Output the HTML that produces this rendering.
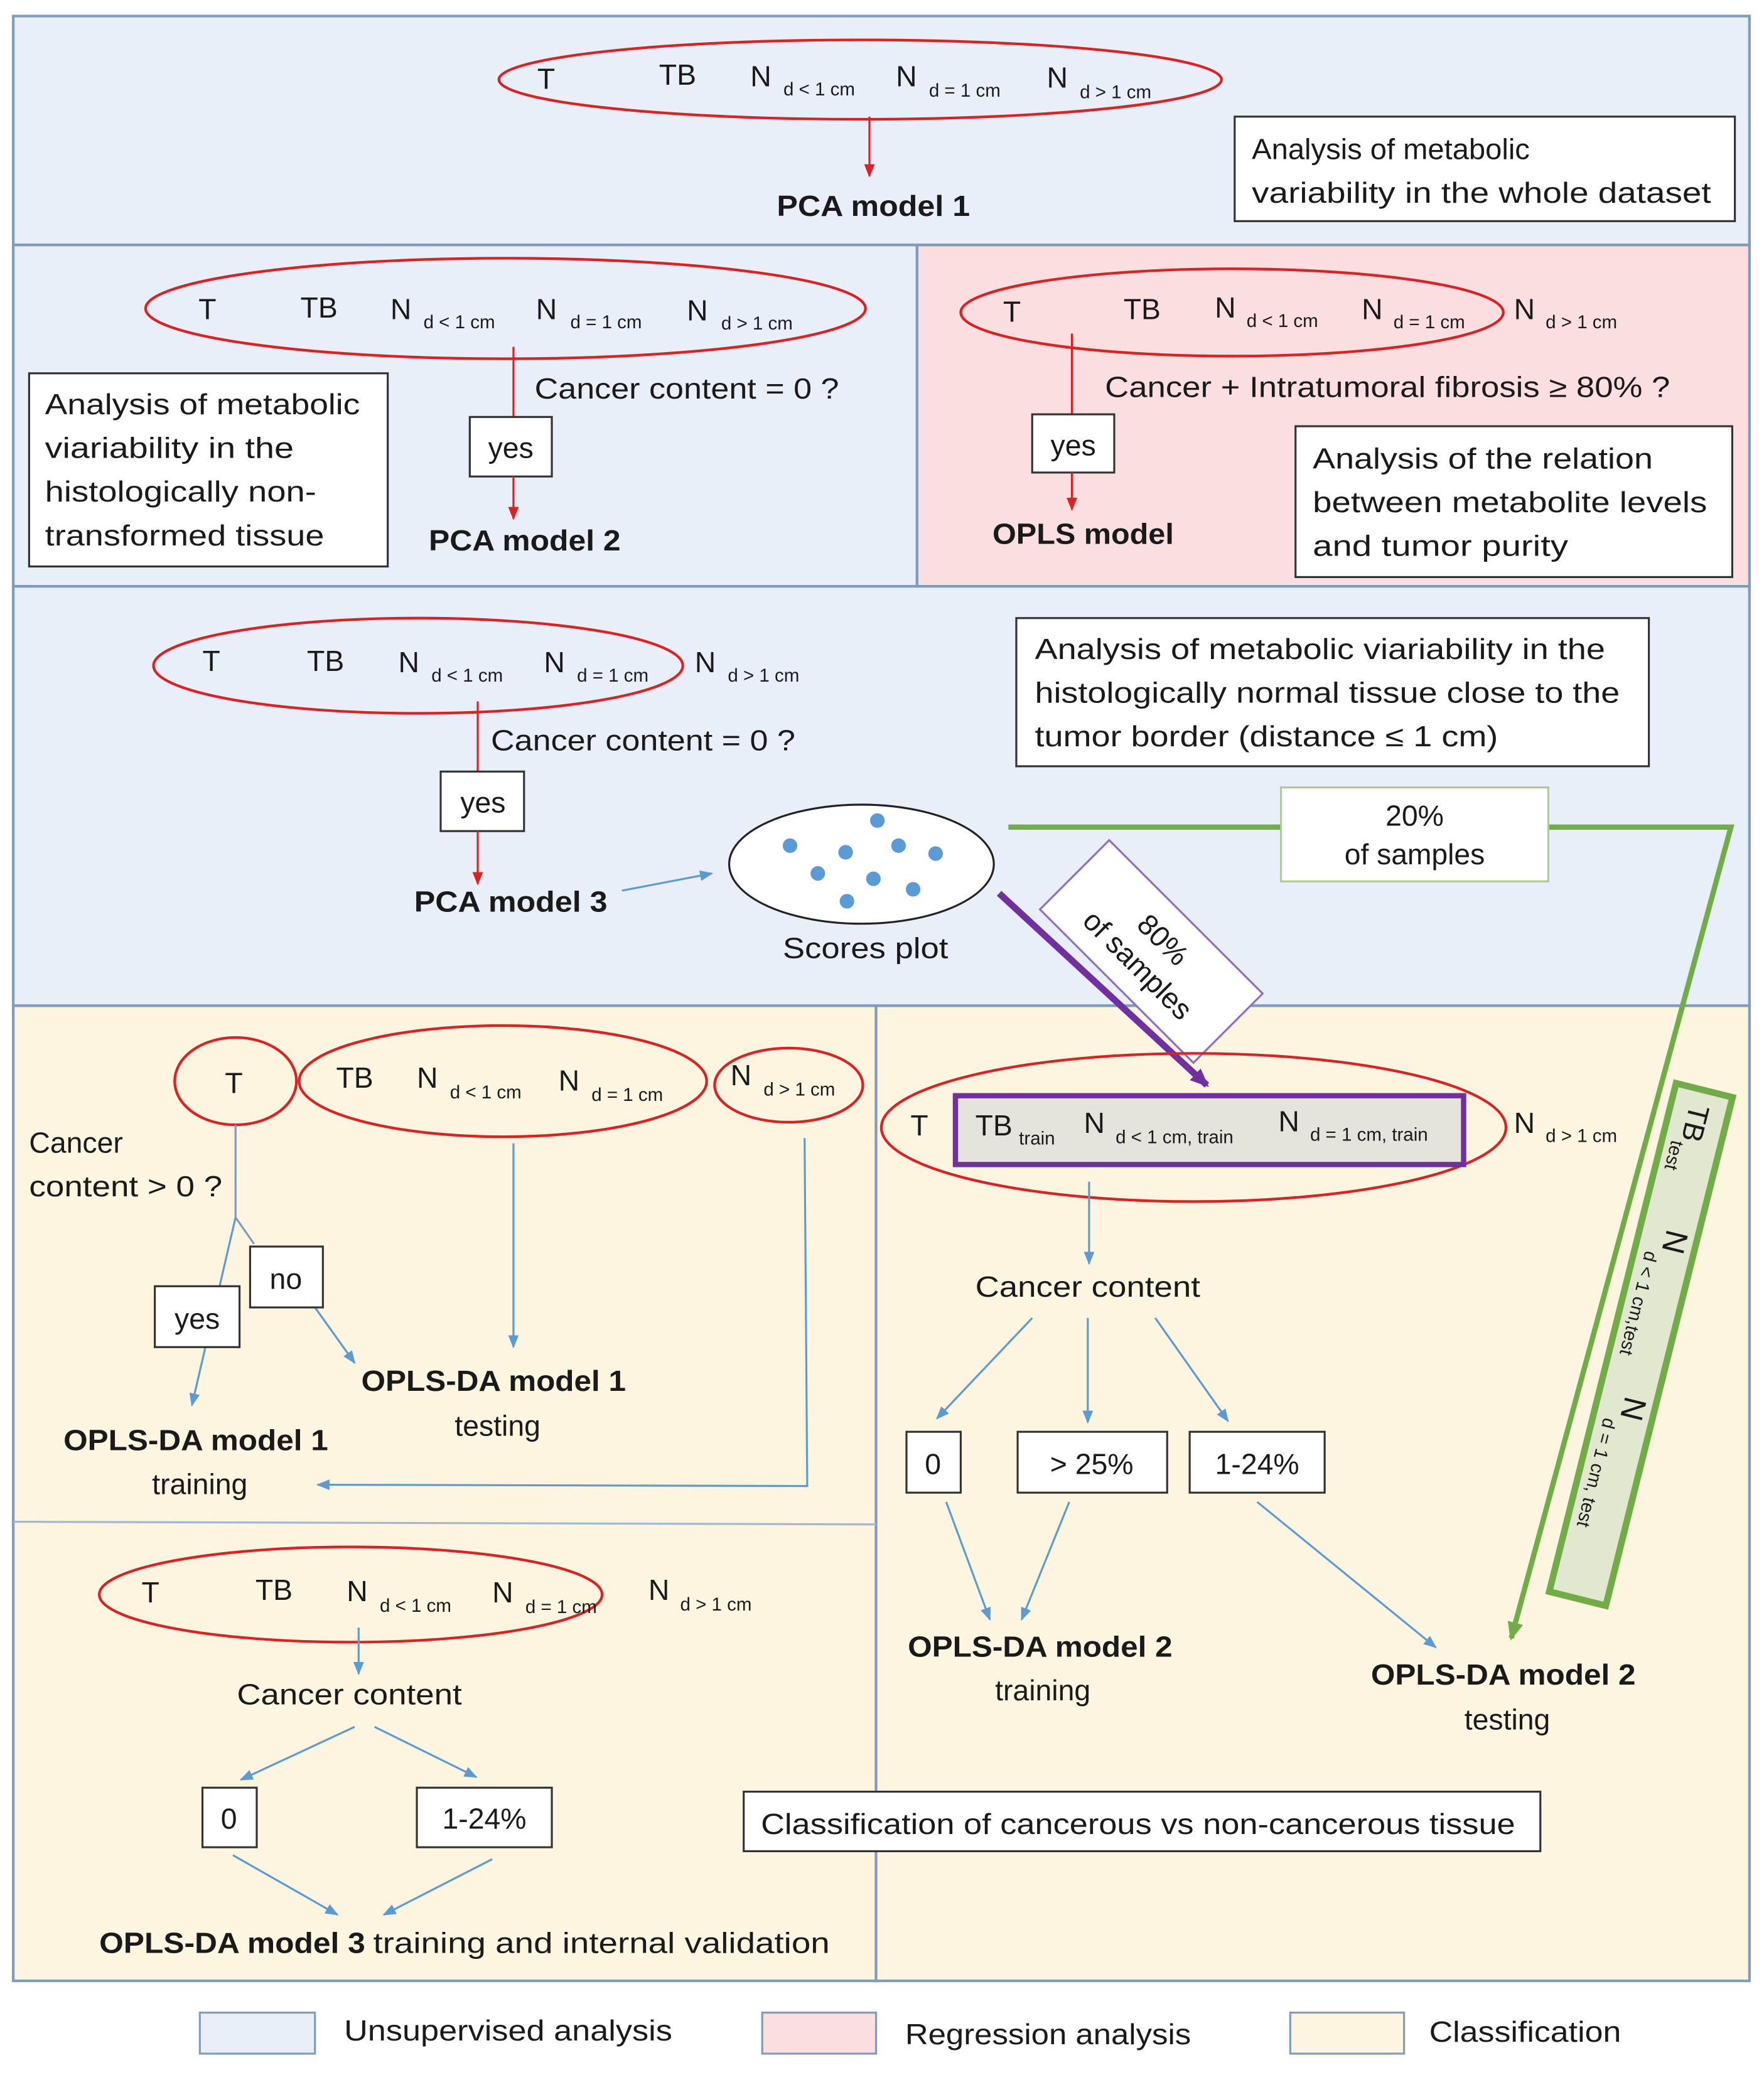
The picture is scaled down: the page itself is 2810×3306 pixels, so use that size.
<!DOCTYPE html>
<html><head><meta charset="utf-8"><style>
html,body{margin:0;padding:0;background:#fff}
svg{display:block}
text{font-family:"Liberation Sans",sans-serif;fill:#1a1a1a}
.m{font-size:22px}
.s{font-size:14px}
.b{font-size:22px;font-weight:bold}
</style></head><body>
<svg width="2810" height="3306" viewBox="0 0 1333 1568" xmlns="http://www.w3.org/2000/svg">
<defs>
<marker id="ar" markerWidth="10" markerHeight="10" refX="9" refY="5" orient="auto" markerUnits="userSpaceOnUse"><path d="M0,1 L10,5 L0,9 z" fill="#e02020"/></marker>
<marker id="ab" markerWidth="10" markerHeight="10" refX="9" refY="5" orient="auto" markerUnits="userSpaceOnUse"><path d="M0,1 L10,5 L0,9 z" fill="#5b9bd5"/></marker>
<marker id="ap" markerWidth="14" markerHeight="14" refX="12" refY="7" orient="auto" markerUnits="userSpaceOnUse"><path d="M0,1 L14,7 L0,13 z" fill="#7030a0"/></marker>
<marker id="ag" markerWidth="14" markerHeight="14" refX="12" refY="7" orient="auto" markerUnits="userSpaceOnUse"><path d="M0,1 L14,7 L0,13 z" fill="#70ad47"/></marker>
</defs>
<rect width="1333" height="1568" fill="#fff"/>
<g stroke="#7f9cbf" stroke-width="2">
<rect x="10" y="12" width="1312" height="173" fill="#e9eff8"/>
<rect x="10" y="185" width="683" height="258" fill="#e9eff8"/>
<rect x="693" y="185" width="629" height="258" fill="#fbdfe0"/>
<rect x="10" y="443" width="1312" height="317" fill="#e9eff8"/>
<rect x="10" y="760" width="652" height="737" fill="#fdf5e0"/>
<rect x="662" y="760" width="660" height="737" fill="#fdf5e0"/>
</g>
<line x1="10" y1="1150" x2="662" y2="1152" stroke="#9fb8d6" stroke-width="1.5"/>

<ellipse cx="650" cy="60" rx="273" ry="30" fill="none" stroke="#e02020" stroke-width="2"/>
<text class="m" x="406" y="67">T</text><text class="m" x="498" y="64">TB</text>
<text class="m" x="567" y="65">N</text><text class="s" x="592" y="72">d &lt; 1 cm</text>
<text class="m" x="677" y="65">N</text><text class="s" x="702" y="73">d = 1 cm</text>
<text class="m" x="791" y="66">N</text><text class="s" x="816" y="74">d &gt; 1 cm</text>
<line x1="657" y1="88" x2="657" y2="133" stroke="#e02020" stroke-width="1.5" marker-end="url(#ar)"/>
<text class="b" x="660" y="163" text-anchor="middle" textLength="146" lengthAdjust="spacingAndGlyphs">PCA model 1</text>
<rect x="933" y="88" width="378" height="79" fill="#fff" stroke="#333" stroke-width="1.5"/>
<text class="m" x="946" y="120" textLength="210" lengthAdjust="spacingAndGlyphs">Analysis of metabolic</text>
<text class="m" x="946" y="153" textLength="347" lengthAdjust="spacingAndGlyphs">variability in the whole dataset</text>

<ellipse cx="382" cy="233" rx="272" ry="38" fill="none" stroke="#e02020" stroke-width="2"/>
<text class="m" x="150" y="241">T</text><text class="m" x="227" y="240">TB</text>
<text class="m" x="295" y="241">N</text><text class="s" x="320" y="248">d &lt; 1 cm</text>
<text class="m" x="405" y="241">N</text><text class="s" x="431" y="248">d = 1 cm</text>
<text class="m" x="519" y="242">N</text><text class="s" x="545" y="249">d &gt; 1 cm</text>
<line x1="388" y1="262" x2="388" y2="315" stroke="#e02020" stroke-width="1.5"/>
<rect x="355" y="315" width="62" height="45" fill="#fff" stroke="#333" stroke-width="1.5"/>
<text class="m" x="386" y="346" text-anchor="middle">yes</text>
<line x1="388" y1="360" x2="388" y2="392" stroke="#e02020" stroke-width="1.5" marker-end="url(#ar)"/>
<text class="m" x="404" y="301" textLength="230" lengthAdjust="spacingAndGlyphs">Cancer content = 0 ?</text>
<text class="b" x="324" y="416" textLength="145" lengthAdjust="spacingAndGlyphs">PCA model 2</text>
<rect x="22" y="282" width="271" height="146" fill="#fff" stroke="#333" stroke-width="1.5"/>
<text class="m" x="34" y="313" textLength="238" lengthAdjust="spacingAndGlyphs">Analysis of metabolic</text>
<text class="m" x="34" y="346" textLength="188" lengthAdjust="spacingAndGlyphs">viariability in the</text>
<text class="m" x="34" y="379" textLength="205" lengthAdjust="spacingAndGlyphs">histologically non-</text>
<text class="m" x="34" y="412" textLength="211" lengthAdjust="spacingAndGlyphs">transformed tissue</text>

<ellipse cx="931" cy="236" rx="205" ry="33" fill="none" stroke="#e02020" stroke-width="2"/>
<text class="m" x="758" y="243">T</text><text class="m" x="849" y="241">TB</text>
<text class="m" x="918" y="240">N</text><text class="s" x="942" y="247">d &lt; 1 cm</text>
<text class="m" x="1029" y="241">N</text><text class="s" x="1053" y="248">d = 1 cm</text>
<text class="m" x="1144" y="241">N</text><text class="s" x="1168" y="248">d &gt; 1 cm</text>
<line x1="810" y1="252" x2="810" y2="313" stroke="#e02020" stroke-width="1.5"/>
<rect x="780" y="313" width="62" height="44" fill="#fff" stroke="#333" stroke-width="1.5"/>
<text class="m" x="811" y="344" text-anchor="middle">yes</text>
<line x1="810" y1="357" x2="810" y2="385" stroke="#e02020" stroke-width="1.5" marker-end="url(#ar)"/>
<text class="m" x="835" y="300" textLength="427" lengthAdjust="spacingAndGlyphs">Cancer + Intratumoral fibrosis ≥ 80% ?</text>
<text class="b" x="750" y="411" textLength="137" lengthAdjust="spacingAndGlyphs">OPLS model</text>
<rect x="979" y="322" width="330" height="114" fill="#fff" stroke="#333" stroke-width="1.5"/>
<text class="m" x="992" y="354" textLength="257" lengthAdjust="spacingAndGlyphs">Analysis of the relation</text>
<text class="m" x="992" y="387" textLength="298" lengthAdjust="spacingAndGlyphs">between metabolite levels</text>
<text class="m" x="992" y="420" textLength="193" lengthAdjust="spacingAndGlyphs">and tumor purity</text>

<ellipse cx="316" cy="503" rx="200" ry="36" fill="none" stroke="#e02020" stroke-width="2"/>
<text class="m" x="153" y="507">T</text><text class="m" x="232" y="507">TB</text>
<text class="m" x="301" y="508">N</text><text class="s" x="326" y="515">d &lt; 1 cm</text>
<text class="m" x="411" y="508">N</text><text class="s" x="436" y="515">d = 1 cm</text>
<text class="m" x="525" y="508">N</text><text class="s" x="550" y="515">d &gt; 1 cm</text>
<line x1="361" y1="530" x2="361" y2="583" stroke="#e02020" stroke-width="1.5"/>
<rect x="333" y="583" width="63" height="45" fill="#fff" stroke="#333" stroke-width="1.5"/>
<text class="m" x="365" y="614" text-anchor="middle">yes</text>
<line x1="361" y1="628" x2="361" y2="668" stroke="#e02020" stroke-width="1.5" marker-end="url(#ar)"/>
<text class="m" x="371" y="567" textLength="230" lengthAdjust="spacingAndGlyphs">Cancer content = 0 ?</text>
<text class="b" x="313" y="689" textLength="146" lengthAdjust="spacingAndGlyphs">PCA model 3</text>
<line x1="470" y1="673" x2="538" y2="660" stroke="#5b9bd5" stroke-width="1.5" marker-end="url(#ab)"/>
<ellipse cx="651" cy="653" rx="100" ry="45" fill="#fff" stroke="#222" stroke-width="1.5"/>
<g fill="#5b9bd5"><circle cx="663" cy="620" r="5.5"/><circle cx="597" cy="639" r="5.5"/><circle cx="639" cy="644" r="5.5"/><circle cx="679" cy="639" r="5.5"/><circle cx="707" cy="645" r="5.5"/><circle cx="618" cy="660" r="5.5"/><circle cx="660" cy="664" r="5.5"/><circle cx="690" cy="672" r="5.5"/><circle cx="640" cy="681" r="5.5"/></g>
<text class="m" x="654" y="724" text-anchor="middle" textLength="125" lengthAdjust="spacingAndGlyphs">Scores plot</text>
<rect x="768" y="467" width="478" height="112" fill="#fff" stroke="#333" stroke-width="1.5"/>
<text class="m" x="782" y="498" textLength="431" lengthAdjust="spacingAndGlyphs">Analysis of metabolic viariability in the</text>
<text class="m" x="782" y="531" textLength="442" lengthAdjust="spacingAndGlyphs">histologically normal tissue close to the</text>
<text class="m" x="782" y="564" textLength="350" lengthAdjust="spacingAndGlyphs">tumor border (distance ≤ 1 cm)</text>

<polyline points="762,625 1308,625 1142,1238" fill="none" stroke="#70ad47" stroke-width="4" marker-end="url(#ag)"/>
<rect x="968" y="595" width="202" height="71" fill="#fff" stroke="#a9d18e" stroke-width="1.5"/>
<text class="m" x="1069" y="624" text-anchor="middle">20%</text>
<text class="m" x="1069" y="653" text-anchor="middle" textLength="106" lengthAdjust="spacingAndGlyphs">of samples</text>

<line x1="755" y1="675" x2="912" y2="820" stroke="#7030a0" stroke-width="5" marker-end="url(#ap)"/>
<g transform="translate(870,719) rotate(45)">
<rect x="-82" y="-37" width="164" height="74" fill="#fff" stroke="#8e6fbf" stroke-width="1.5"/>
<text class="m" x="0" y="-5" text-anchor="middle">80%</text>
<text class="m" x="0" y="22" text-anchor="middle" textLength="106" lengthAdjust="spacingAndGlyphs">of samples</text>
</g>

<ellipse cx="902" cy="852" rx="236" ry="56" fill="none" stroke="#e02020" stroke-width="2"/>
<rect x="722" y="828" width="384" height="52" fill="#e4e4dc" stroke="#7030a0" stroke-width="4"/>
<text class="m" x="688" y="858">T</text>
<text class="m" x="737" y="858">TB</text><text class="s" x="770" y="865">train</text>
<text class="m" x="819" y="856">N</text><text class="s" x="843" y="864">d &lt; 1 cm, train</text>
<text class="m" x="966" y="855">N</text><text class="s" x="990" y="862">d = 1 cm, train</text>
<text class="m" x="1144" y="856">N</text><text class="s" x="1168" y="863">d &gt; 1 cm</text>
<line x1="823" y1="893" x2="823" y2="955" stroke="#5b9bd5" stroke-width="1.5" marker-end="url(#ab)"/>
<text class="m" x="822" y="980" text-anchor="middle" textLength="170" lengthAdjust="spacingAndGlyphs">Cancer content</text>
<g stroke="#5b9bd5" stroke-width="1.5" marker-end="url(#ab)">
<line x1="780" y1="996" x2="708" y2="1072"/>
<line x1="822" y1="996" x2="822" y2="1075"/>
<line x1="873" y1="996" x2="928" y2="1074"/>
<line x1="715" y1="1135" x2="748" y2="1224"/>
<line x1="808" y1="1135" x2="772" y2="1224"/>
<line x1="950" y1="1135" x2="1085" y2="1245"/>
</g>
<g fill="#fff" stroke="#333" stroke-width="1.5">
<rect x="685" y="1082" width="41" height="46"/><rect x="769" y="1082" width="113" height="46"/><rect x="899" y="1082" width="102" height="46"/>
</g>
<text class="m" x="705" y="1114" text-anchor="middle">0</text>
<text class="m" x="825" y="1114" text-anchor="middle">&gt; 25%</text>
<text class="m" x="950" y="1114" text-anchor="middle">1-24%</text>
<text class="b" x="786" y="1252" text-anchor="middle" textLength="200" lengthAdjust="spacingAndGlyphs">OPLS-DA model 2</text>
<text class="m" x="788" y="1285" text-anchor="middle">training</text>
<text class="b" x="1136" y="1273" text-anchor="middle" textLength="200" lengthAdjust="spacingAndGlyphs">OPLS-DA model 2</text>
<text class="m" x="1139" y="1307" text-anchor="middle">testing</text>
<g transform="translate(1240,1016) rotate(104)">
<rect x="-198" y="-22" width="396" height="44" fill="#e2e8cf" stroke="#70ad47" stroke-width="5"/>
<text class="m" x="-186" y="8">TB</text><text class="s" x="-156" y="15">test</text>
<text class="m" x="-90" y="2" style="font-size:24px">N</text><text class="s" x="-70" y="14">d &lt; 1 cm,test</text>
<text class="m" x="40" y="2" style="font-size:24px">N</text><text class="s" x="60" y="14">d = 1 cm, test</text>
</g>
<rect x="562" y="1354" width="602" height="45" fill="#fff" stroke="#333" stroke-width="1.5"/>
<text class="m" x="575" y="1386" textLength="570" lengthAdjust="spacingAndGlyphs">Classification of cancerous vs non-cancerous tissue</text>

<g fill="none" stroke="#e02020" stroke-width="2">
<ellipse cx="178" cy="817" rx="46" ry="33"/><ellipse cx="380" cy="817" rx="154" ry="42"/><ellipse cx="596" cy="820" rx="56" ry="28"/>
</g>
<text class="m" x="170" y="826">T</text><text class="m" x="254" y="822">TB</text>
<text class="m" x="315" y="822">N</text><text class="s" x="340" y="830">d &lt; 1 cm</text>
<text class="m" x="422" y="824">N</text><text class="s" x="447" y="832">d = 1 cm</text>
<text class="m" x="552" y="820">N</text><text class="s" x="577" y="828">d &gt; 1 cm</text>
<text class="m" x="22" y="871">Cancer</text>
<text class="m" x="22" y="904" textLength="146" lengthAdjust="spacingAndGlyphs">content &gt; 0 ?</text>
<g stroke="#7f9cbf" stroke-width="1.5" fill="none">
<line x1="178" y1="850" x2="178" y2="920"/>
<line x1="178" y1="920" x2="192" y2="940"/>
</g>
<g stroke="#5b9bd5" stroke-width="1.5" fill="none">
<line x1="178" y1="920" x2="145" y2="1062" marker-end="url(#ab)"/>
<line x1="238" y1="988" x2="268" y2="1030" marker-end="url(#ab)"/>
<line x1="388" y1="864" x2="388" y2="1018" marker-end="url(#ab)"/>
<polyline points="608,860 610,1123 240,1122" marker-end="url(#ab)"/>
</g>
<g fill="#fff" stroke="#333" stroke-width="1.5">
<rect x="117" y="972" width="64" height="46"/><rect x="189" y="942" width="55" height="46"/>
</g>
<text class="m" x="149" y="1004" text-anchor="middle">yes</text>
<text class="m" x="216" y="974" text-anchor="middle">no</text>
<text class="b" x="373" y="1051" text-anchor="middle" textLength="200" lengthAdjust="spacingAndGlyphs">OPLS-DA model 1</text>
<text class="m" x="376" y="1085" text-anchor="middle">testing</text>
<text class="b" x="148" y="1096" text-anchor="middle" textLength="200" lengthAdjust="spacingAndGlyphs">OPLS-DA model 1</text>
<text class="m" x="151" y="1129" text-anchor="middle">training</text>

<ellipse cx="265" cy="1205" rx="190" ry="36" fill="none" stroke="#e02020" stroke-width="2"/>
<text class="m" x="107" y="1211">T</text><text class="m" x="193" y="1209">TB</text>
<text class="m" x="262" y="1210">N</text><text class="s" x="287" y="1218">d &lt; 1 cm</text>
<text class="m" x="372" y="1211">N</text><text class="s" x="397" y="1219">d = 1 cm</text>
<text class="m" x="490" y="1209">N</text><text class="s" x="514" y="1217">d &gt; 1 cm</text>
<g stroke="#5b9bd5" stroke-width="1.5" marker-end="url(#ab)">
<line x1="271" y1="1230" x2="271" y2="1265"/>
<line x1="268" y1="1305" x2="182" y2="1345"/>
<line x1="283" y1="1305" x2="360" y2="1343"/>
<line x1="176" y1="1402" x2="255" y2="1447"/>
<line x1="372" y1="1405" x2="290" y2="1447"/>
</g>
<text class="m" x="264" y="1288" text-anchor="middle" textLength="170" lengthAdjust="spacingAndGlyphs">Cancer content</text>
<g fill="#fff" stroke="#333" stroke-width="1.5">
<rect x="153" y="1351" width="41" height="45"/><rect x="315" y="1351" width="102" height="45"/>
</g>
<text class="m" x="173" y="1382" text-anchor="middle">0</text>
<text class="m" x="366" y="1382" text-anchor="middle">1-24%</text>
<text class="b" x="75" y="1476" textLength="201" lengthAdjust="spacingAndGlyphs">OPLS-DA model 3</text>
<text class="m" x="282" y="1476" textLength="345" lengthAdjust="spacingAndGlyphs">training and internal validation</text>

<g stroke="#7f9cbf" stroke-width="1.5">
<rect x="151" y="1521" width="87" height="31" fill="#e9eff8"/>
<rect x="576" y="1521" width="86" height="31" fill="#fbdfe0"/>
<rect x="975" y="1521" width="86" height="31" fill="#fdf5e0"/>
</g>
<text class="m" x="260" y="1542" textLength="248" lengthAdjust="spacingAndGlyphs">Unsupervised analysis</text>
<text class="m" x="684" y="1545" textLength="216" lengthAdjust="spacingAndGlyphs">Regression analysis</text>
<text class="m" x="1080" y="1543" textLength="145" lengthAdjust="spacingAndGlyphs">Classification</text>
</svg>
</body></html>
